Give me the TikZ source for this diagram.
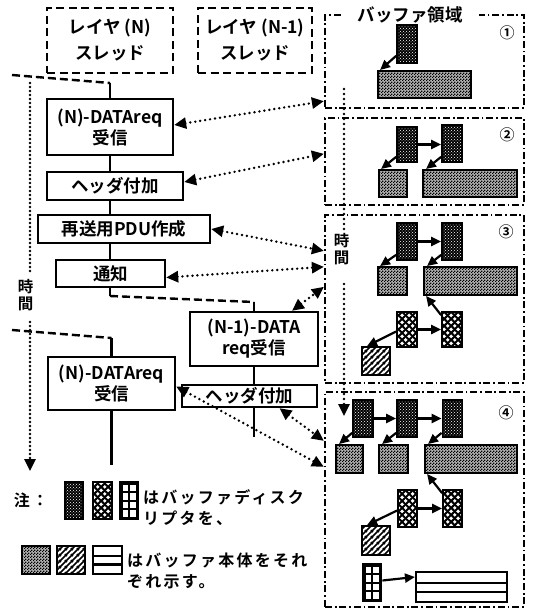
\documentclass[tikz,border=0pt]{standalone}
\usepackage{fontspec}
\setmainfont{Noto Sans CJK JP}[BoldFont={* Bold}]
\newfontfamily\legfamily{Noto Sans CJK JP}[BoldFont={* Bold}, LetterSpace=14]
\usetikzlibrary{arrows.meta,calc,patterns,patterns.meta}
\newcommand\boxfnt{\fontsize{17.5}{21}\selectfont\bfseries}
\newcommand\headfnt{\fontsize{17.5}{26}\selectfont\bfseries}
\newcommand\legfnt{\legfamily\fontsize{16}{21}\selectfont\bfseries}
\newcommand\numfnt{\fontsize{15}{15}\selectfont\bfseries}
\newcommand\timefnt{\fontsize{15.5}{17}\selectfont\bfseries}
\tikzdeclarepattern{
  name=checker, type=uncolored,
  bottom left={(0pt,0pt)}, top right={(3pt,3pt)}, tile size={(3pt,3pt)},
  code={\fill (0pt,0pt) rectangle (1.5pt,1.5pt); \fill (1.5pt,1.5pt) rectangle (3pt,3pt);}
}
\tikzdeclarepattern{
  name=thickx, type=uncolored,
  bottom left={(0pt,0pt)}, top right={(7pt,7pt)}, tile size={(7pt,7pt)},
  code={\draw[line width=2.2pt] (-1pt,-1pt) -- (8pt,8pt) (-1pt,8pt) -- (8pt,-1pt);}
}
\tikzdeclarepattern{
  name=thickhatch, type=uncolored,
  bottom left={(0pt,0pt)}, top right={(6pt,6pt)}, tile size={(6pt,6pt)},
  code={\draw[line width=1.7pt] (-1pt,-1pt) -- (7pt,7pt) (5pt,-1pt) -- (7pt,1pt) (-1pt,5pt) -- (1pt,7pt);}
}
\begin{document}
\begin{tikzpicture}[x=1pt,y=-1pt,
 dbox/.style={draw, line width=2.7pt, dash pattern=on 8pt off 4.5pt, inner sep=0, align=center, font=\headfnt},
 sbox/.style={draw, line width=2.4pt, fill=white, inner sep=0, align=center, font=\boxfnt},
 region/.style={draw, line width=2.3pt, dash pattern=on 7pt off 2.8pt on 1.8pt off 2.8pt, inner sep=0},
 dotl/.style={line width=2.7pt, dash pattern=on 0pt off 5pt, line cap=round},
 darr/.style={dotl, {Triangle[length=12pt,width=11pt]}-{Triangle[length=12pt,width=11pt]}},
 dashl/.style={line width=2.4pt, dash pattern=on 8pt off 4pt},
 conn/.style={line width=2.4pt},
 barr/.style={line width=2.2pt, -{Triangle[length=10pt,width=9pt]}},
 desc/.style={draw, line width=1.8pt, inner sep=0, minimum width=20pt, minimum height=37pt, preaction={fill=black}, pattern=crosshatch dots, pattern color=white},
 xdesc/.style={draw, line width=1.8pt, inner sep=0, minimum width=20pt, minimum height=36pt, preaction={fill=white}, pattern=thickx, pattern color=black},
 body/.style={draw, line width=1.9pt, inner sep=0, minimum height=28pt, preaction={fill=black!30}, pattern=checker, pattern color=black},
 hbody/.style={draw, line width=1.9pt, inner sep=0, minimum width=28pt, minimum height=28pt, preaction={fill=white}, pattern=thickhatch, pattern color=black},
 gdesc/.style={draw, line width=1.8pt, fill=black, inner sep=0, minimum width=19pt, minimum height=38pt,
   path picture={\foreach \i in {0,1}{\foreach \j in {0,1,2,3}{
     \fill[white] ($(path picture bounding box.north west)+(3+7.5*\i,3+8.6*\j)$) rectangle ++(5.5,6.5);}}}},
 sbody/.style={draw, line width=2.1pt, fill=white, inner sep=0,
   path picture={\draw[line width=2.6pt]
     ($(path picture bounding box.north west)!0.36!(path picture bounding box.south west)$) -- ($(path picture bounding box.north east)!0.36!(path picture bounding box.south east)$)
     ($(path picture bounding box.north west)!0.66!(path picture bounding box.south west)$) -- ($(path picture bounding box.north east)!0.66!(path picture bounding box.south east)$);}},
 num/.style={font=\numfnt, inner sep=0},
]
\useasboundingbox (0,0) rectangle (532,609);

% ---- thread headers
\node[dbox, minimum width=126pt, minimum height=65pt] (hN) at (110,40.5) {レイヤ (N)\\スレッド};
\node[dbox, minimum width=114pt, minimum height=65pt] (hN1) at (255,40.5) {レイヤ (N-1)\\スレッド};

% ---- regions
\node[region, minimum width=199pt, minimum height=93pt] (r1) at (424.5,61.5) {};
\node[region, minimum width=199pt, minimum height=87pt] (r2) at (424.5,161.5) {};
\node[region, minimum width=199pt, minimum height=168pt] (r3) at (424.5,299) {};
\node[region, minimum width=199pt, minimum height=215pt] (r4) at (424.5,499.5) {};
\node[fill=white, inner xsep=16pt, inner ysep=0, font=\headfnt] (title) at (410,15) {バッファ領域};
\node[num] (n1) at (507,33) {①};
\node[num] (n2) at (507,135) {②};
\node[num] (n3) at (506,232) {③};
\node[num] (n4) at (506,413) {④};

% ---- left flow
\node[sbox, minimum width=126pt, minimum height=56pt] (req1) at (110,127) {(N)-DATAreq\\受信};
\node[sbox, minimum width=136pt, minimum height=28pt] (hdr1) at (115,186) {ヘッダ付加};
\node[sbox, minimum width=172pt, minimum height=28pt] (pdu) at (124,229) {再送用PDU作成};
\node[sbox, minimum width=109pt, minimum height=27pt] (ntf) at (110.5,273.5) {通知};
\node[sbox, minimum width=128pt, minimum height=54pt] (req2n1) at (254,339) {(N-1)-DATA\\req受信};
\node[sbox, minimum width=135pt, minimum height=22pt] (hdr2) at (249.5,396) {ヘッダ付加};
\node[sbox, minimum width=127pt, minimum height=53pt] (req2) at (111.5,383.5) {(N)-DATAreq\\受信};

\coordinate (s1) at (12,75);
\coordinate (c1) at (110,83);
\draw[dashl] (s1) -- (c1);
\draw[conn] (c1) -- (c1 |- req1.north);
\draw[conn] (req1.south -| c1) -- (c1 |- hdr1.north);
\draw[conn] (hdr1.south -| c1) -- (c1 |- pdu.north);
\draw[conn] (pdu.south -| c1) -- (c1 |- ntf.north);
\coordinate (c2) at (110,296);
\coordinate (c3) at (254,302);
\draw[conn] (c1 |- ntf.south) -- (c2);
\draw[dashl] (c2) -- (c3);
\draw[conn] (c3) -- (req2n1.north);
\draw[conn] (req2n1.south) -- (req2n1.south |- hdr2.north);
\coordinate (e1) at (254,437);
\draw[conn] (hdr2.south -| e1) -- (e1);
\coordinate (s2) at (12,330);
\coordinate (c4) at (111.5,338);
\draw[dashl] (s2) -- (c4);
\draw[conn] (c4) -- (req2.north);
\coordinate (e2) at (111.5,465);
\draw[conn] (req2.south) -- (e2);

% ---- time lines
\coordinate (lt0) at (30,83);
\coordinate (lt1) at (30,272);
\coordinate (lt2) at (30,322);
\coordinate (lt3) at (30,471);
\node[font=\timefnt, align=center, inner sep=0] (ltime) at (25.5,295) {時\\間};
\draw[dotl, dash pattern=on 0pt off 4pt] (lt0) -- (lt1);
\draw[dotl, dash pattern=on 0pt off 4pt, -{Triangle[length=12pt,width=11pt]}] (lt2) -- (lt3);
\coordinate (rt0) at (344,89);
\coordinate (rt1) at (344,230);
\coordinate (rt2) at (344,284);
\coordinate (rt3) at (344,416);
\node[font=\timefnt, align=center, inner sep=0] (rtime) at (341.5,249) {時\\間};
\draw[dotl] (rt0) -- (rt1);
\draw[dotl, -{Triangle[length=12pt,width=11pt]}] (rt2) -- (rt3);

% ---- region 1
\node[desc, minimum height=38pt] (d11) at (407,44) {};
\node[body, minimum width=93pt, minimum height=27pt] (b11) at (424.5,84.5) {};
\draw[barr] ($(d11.south west)+(0,-8)$) -- ($(b11.north west)+(3,0)$);

% ---- region 2
\node[desc, minimum height=35pt] (d21) at (407,144.5) {};
\node[desc] (d22) at (452,143.5) {};
\node[body, minimum width=28pt, minimum height=27pt] (b21) at (393,183.5) {};
\node[body, minimum width=94pt, minimum height=27pt] (b22) at (470,183.5) {};
\draw[barr] (d21.east) -- (d21.east -| d22.west);
\draw[barr] ($(d21.south west)+(0,-6)$) -- ($(b21.north west)+(3,0)$);
\draw[barr] ($(d22.south west)+(0,-6)$) -- ($(b22.north west)+(4,0)$);

% ---- region 3
\node[desc] (d31) at (407,241.5) {};
\node[desc] (d32) at (452,241.5) {};
\node[body, minimum width=29pt] (b31) at (392.5,281) {};
\node[body, minimum width=93pt] (b32) at (470.5,281) {};
\node[xdesc, minimum height=35pt] (x31) at (407,329.5) {};
\node[xdesc, minimum height=35pt] (x32) at (452,329.5) {};
\node[hbody] (h31) at (376,361) {};
\draw[barr] (d31.east) -- (d32.west);
\draw[barr] ($(d31.south west)+(0,-6)$) -- ($(b31.north west)+(3,0)$);
\draw[barr] ($(d32.south west)+(0,-6)$) -- ($(b32.north west)+(4,0)$);
\draw[barr] (x31.east) -- (x32.west);
\draw[barr] ($(x32.north west)+(0,4)$) -- ($(b32.south west)+(3,0)$);
\draw[barr] ($(x31.west)+(0,2)$) -- ($(h31.north west)+(6,0)$);

% ---- region 4
\node[desc] (d41) at (363,418.5) {};
\node[desc] (d42) at (407,418.5) {};
\node[desc] (d43) at (452.5,418.5) {};
\node[body, minimum width=27pt] (b41) at (349.5,459) {};
\node[body, minimum width=29pt] (b42) at (393.5,459) {};
\node[body, minimum width=92pt] (b43) at (471,459) {};
\node[xdesc, minimum width=19pt, minimum height=37pt] (x41) at (407.5,508.5) {};
\node[xdesc, minimum width=19pt, minimum height=37pt] (x42) at (452.5,508.5) {};
\node[hbody, minimum height=29pt] (h41) at (376,540.5) {};
\node[gdesc] (g41) at (372,582.5) {};
\node[sbody, minimum width=91pt, minimum height=30pt] (s41) at (461.5,587) {};
\draw[barr] (d41.east) -- (d42.west);
\draw[barr] (d42.east) -- (d43.west);
\draw[barr] ($(d41.south west)+(0,-5)$) -- ($(b41.north west)+(4,0)$);
\draw[barr] ($(d42.south west)+(0,-5)$) -- ($(b42.north west)+(4,0)$);
\draw[barr] ($(d43.south west)+(0,-5)$) -- ($(b43.north west)+(4,0)$);
\draw[barr] (x41.east) -- (x42.west);
\draw[barr] ($(x42.north west)+(0,4)$) -- ($(b43.south west)+(3,0)$);
\draw[barr] ($(x41.west)+(0,2)$) -- ($(h41.north west)+(6,0)$);
\draw[barr] ($(g41.east)+(0,-2)$) -- ($(s41.west)+(0,-10)$);

% ---- dotted double arrows
\draw[darr] ($(req1.east)+(0,-2)$) -- ($(r1.south west)+(0,-8)$);
\draw[darr] ($(hdr1.east)+(0,-4)$) -- ($(r2.north west)+(0,37)$);
\draw[darr] (pdu.east) -- ($(r3.north west)+(0,37)$);
\draw[darr] ($(ntf.east)+(0,4)$) -- ($(r3.north west)+(0,53)$);
\draw[darr] ($(req2n1.north)+(38,0)$) -- ($(r3.north west)+(0,73)$);
\draw[darr] ($(req2.east)+(0,3)$) -- ($(r4.north west)+(0,76)$);
\draw[darr] ($(hdr2.south)+(30,0)$) -- ($(r4.north west)+(0,50)$);

% ---- legend
\node[font=\legfnt, inner sep=0] (note) at (31,500) {注：};
\node[desc, minimum width=18pt] (ld1) at (74,500.5) {};
\node[xdesc, minimum width=19pt, minimum height=37pt] (ld2) at (102.5,500.5) {};
\node[gdesc] (ld3) at (129,500.5) {};
\node[font=\legfnt, anchor=west, align=left, inner sep=0] (lt) at (143,507.5) {はバッファディスク\\リプタを、};
\node[body, minimum width=28pt] (lb1) at (36,560) {};
\node[hbody] (lb2) at (71,560) {};
\node[sbody, minimum width=29pt, minimum height=28pt] (lb3) at (107.5,560) {};
\node[font=\legfnt, anchor=west, align=left, inner sep=0] (lbt) at (127,570.5) {はバッファ本体をそれ\\ぞれ示す。};
\end{tikzpicture}
\end{document}
